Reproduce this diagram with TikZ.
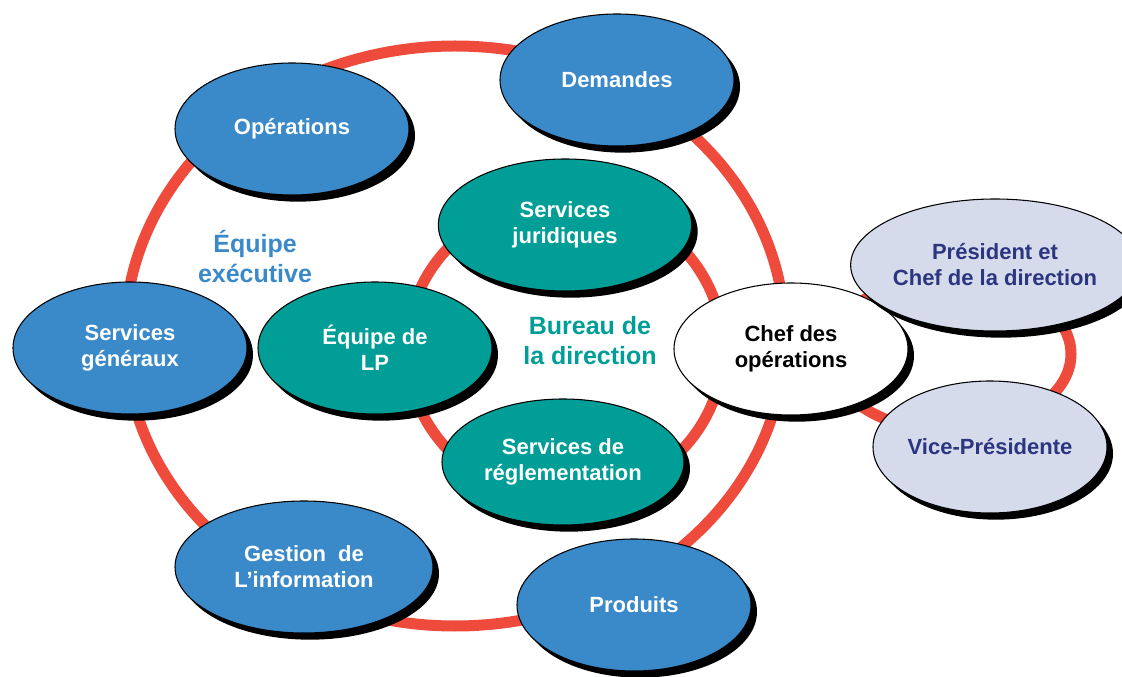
\documentclass[tikz,border=0pt]{standalone}
\usepackage{fontspec}
\setmainfont{Liberation Sans}
\usetikzlibrary{shapes.geometric,shadows}
\definecolor{Ring}{HTML}{EF4B3C}
\definecolor{Sky}{HTML}{3A89C9}
\definecolor{Sea}{HTML}{009E96}
\definecolor{Lilac}{HTML}{D6DBEC}
\definecolor{Navy}{HTML}{2B3580}

\tikzset{
  unit/.style={ellipse, draw=black, line width=0.8pt, minimum width=175.5pt, minimum height=99pt,
    inner sep=0pt, align=center, font=\bfseries\fontsize{16.5}{19.5}\selectfont,
    drop shadow={shadow xshift=4.5pt, shadow yshift=-5pt, fill=black, opacity=1}},
  exec/.style={unit, fill=Sky, text=white},
  office/.style={unit, fill=Sea, text=white},
  chief/.style={unit, fill=white, text=black},
  board/.style={unit, fill=Lilac, text=Navy},
  ring/.style={draw=Ring, line width=8.25pt},
  team/.style={font=\bfseries\fontsize{18.75}{22.5}\selectfont, align=center}
}

\begin{document}
\begin{tikzpicture}[x=0.75pt, y=-0.75pt]
  \useasboundingbox (0,0) rectangle (1122,677);
  \draw[ring] (455,336) ellipse [x radius=330, y radius=290];
  \draw[ring] (565,349) ellipse [x radius=158, y radius=150];
  \draw[ring] (950,354) ellipse [x radius=121, y radius=77];

  \node[exec] (demandes) at (617,80) {Demandes};
  \node[exec] (operations) at (292,129) {Opérations};
  \node[exec] (generaux) at (130,348) {Services\\généraux};
  \node[exec, minimum width=193.5pt] (gestion) at (304,567) {Gestion~~de\\L’information};
  \node[exec] (produits) at (634,605) {Produits};

  \node[office, minimum width=190pt] (juridiques) at (565,225) {Services\\juridiques};
  \node[office] (lp) at (375,348) {Équipe de\\LP};
  \node[office, minimum width=181.5pt, minimum height=94.5pt] (reglement) at (563,462) {Services de\\réglementation};

  \node[chief] (chef) at (791,349) {Chef des\\opérations};
  \node[board, minimum width=189pt] (president) at (995,265) {Président et\\Chef de la direction};
  \node[board] (vice) at (990,447) {Vice-Présidente};

  \node[team, text=Sky] (executive) at (255,257) {Équipe\\exécutive};
  \node[team, text=Sea] (bureau) at (590,341) {Bureau de\\la direction};
\end{tikzpicture}
\end{document}
